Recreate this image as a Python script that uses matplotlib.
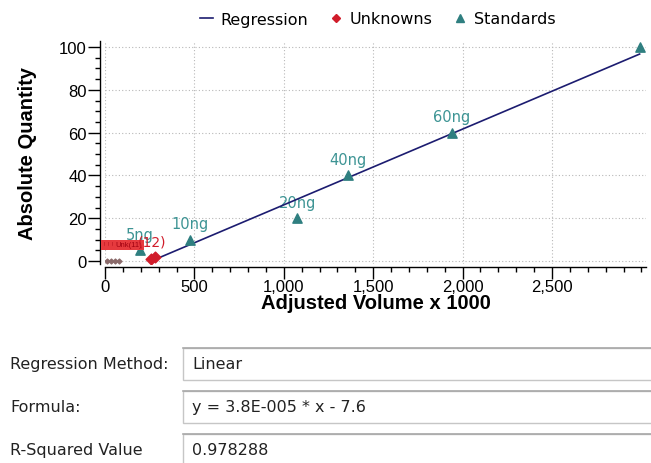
import numpy as np
import matplotlib
matplotlib.use('Agg')
import matplotlib.pyplot as plt
from matplotlib.patches import Rectangle
from matplotlib.lines import Line2D
from matplotlib.ticker import MultipleLocator, FixedLocator, FuncFormatter

plt.rcParams['font.family'] = ['Liberation Sans', 'DejaVu Sans']

# Standards (adjusted volume x 1000, absolute quantity)
standard_x = [195, 478, 1075, 1360, 1940, 2990]
standard_y = [5, 10, 20, 40, 60, 100]
standard_labels = ['5ng', '10ng', '20ng', '40ng', '60ng', '']

# Unknowns, bunched up near the origin
unknown_x = [12, 35, 58, 80, 255, 280]
unknown_y = [0.0, 0.0, 0.0, 0.0, 0.8, 1.8]
unknown_labels = ['(8)', '(9)', '(10)', '(11)', '(12)', '(12)']

# Regression line as drawn
regression_x = [265, 2990]
regression_y = [0.2, 96.7]

x_ticks = [0, 500, 1000, 1500, 2000, 2500]
y_ticks = [0, 20, 40, 60, 80, 100]

# Panel below the chart
panel_names = ['Regression Method:', 'Formula:', 'R-Squared Value']
panel_values = ['Linear', 'y = 3.8E-005 * x - 7.6', '0.978288']

W, H = 651, 464
fig = plt.figure(figsize=(W / 100, H / 100), dpi=100)

px_unit_x = 447 / 2500
px_unit_y = 214 / 100
ax_left, ax_right, ax_top, ax_bottom = 105, 646, 42, 265
ax = fig.add_axes([ax_left / W, 1 - ax_bottom / H,
                   (ax_right - ax_left) / W, (ax_bottom - ax_top) / H])
ax.set_xlim(0, (ax_right - ax_left) / px_unit_x)
ax.set_ylim(-(ax_bottom - 262) / px_unit_y, (262 - ax_top) / px_unit_y)

teal = '#2f7f80'
teal_text = '#3d9494'
red = '#d01c2a'
navy = '#1c1c70'

ax.plot(regression_x, regression_y, color=navy, lw=1.2, zorder=3)
ax.scatter(standard_x, standard_y, marker='^', s=45, color=teal, zorder=4, clip_on=False)
ax.scatter(unknown_x[:4], unknown_y[:4], marker='D', s=6, color='#8a6a6a', zorder=4)
ax.scatter(unknown_x[4:], unknown_y[4:], marker='D', s=30, color=red, zorder=4)

for x, y, lab in zip(standard_x, standard_y, standard_labels):
    if lab:
        ax.annotate(lab, (x, y), xytext=(0, 6), textcoords='offset points',
                    ha='center', va='bottom', color=teal_text, fontsize=10.5,
                    family=['DejaVu Sans'], zorder=2)

for x, y, lab in zip(unknown_x[:4], unknown_y[:4], unknown_labels[:4]):
    ax.annotate('Unk' + lab, (x, y), xytext=(-3, 9), textcoords='offset points',
                ha='left', va='bottom', color='#a00010', fontsize=5.5,
                bbox=dict(boxstyle='square,pad=0.25', fc='#e63a3e', ec='none'),
                zorder=5)
ax.annotate(unknown_labels[5], (unknown_x[5], unknown_y[5]), xytext=(-2, 6),
            textcoords='offset points', ha='center', va='bottom', color=red,
            fontsize=10, family=['DejaVu Sans'], zorder=5)

# Axes styling
for s in ['top', 'right']:
    ax.spines[s].set_visible(False)
ax.spines['left'].set_position(('outward', 3.6))
ax.spines['bottom'].set_position(('outward', 2.2))
ax.spines['left'].set_linewidth(1.0)
ax.spines['bottom'].set_linewidth(1.0)

ax.xaxis.set_major_locator(FixedLocator(x_ticks))
ax.xaxis.set_minor_locator(MultipleLocator(100))
ax.yaxis.set_major_locator(FixedLocator(y_ticks))
ax.yaxis.set_minor_locator(MultipleLocator(5))
ax.xaxis.set_major_formatter(FuncFormatter(lambda v, p: f'{int(v):,}'))
ax.tick_params(which='major', length=8.5, width=1.0, labelsize=12, colors='black', pad=1)
ax.tick_params(axis='x', which='major', pad=0)
ax.tick_params(which='minor', length=3.6, width=1.0)

ax.grid(which='major', color='#b8b8b8', linestyle=(0, (1, 2)), linewidth=0.8)
ax.set_axisbelow(True)

ax.set_xlabel('Adjusted Volume x 1000', fontsize=14.5, fontweight='bold', labelpad=-0.5)
ax.set_ylabel('Absolute Quantity', fontsize=14.5, fontweight='bold', labelpad=16)

# Legend
handles = [Line2D([], [], color=navy, lw=1.2),
           Line2D([], [], marker='D', color=red, ls='none', markersize=4.5),
           Line2D([], [], marker='^', color=teal, ls='none', markersize=6)]
fig.legend(handles, ['Regression', 'Unknowns', 'Standards'], ncol=3,
           loc='center', bbox_to_anchor=(378 / W, 1 - 20 / H), frameon=False,
           handlelength=0.8, handletextpad=0.5, columnspacing=1.3,
           prop={'family': ['DejaVu Sans'], 'size': 11.5})

# Panel with the regression results
box_left = 183
box_tops = [349, 392, 435]
box_h = 32
for name, val, top in zip(panel_names, panel_values, box_tops):
    mid = top + box_h / 2
    fig.text(10 / W, 1 - mid / H, name, ha='left', va='center', fontsize=11.5,
             family=['DejaVu Sans'], color='#222222')
    fig.patches.append(Rectangle((box_left / W, 1 - (top + box_h) / H), (W - box_left) / W + 0.01,
                                 box_h / H, transform=fig.transFigure, fc='white',
                                 ec='#c6c6c6', lw=1.0))
    fig.add_artist(Line2D([box_left / W, 1], [1 - top / H, 1 - top / H],
                          transform=fig.transFigure, color='#a8a8a8', lw=1.2))
    fig.text((box_left + 9) / W, 1 - mid / H, val, ha='left', va='center', fontsize=11.5,
             family=['DejaVu Sans'], color='#222222')

fig.savefig('out.png', dpi=100)
